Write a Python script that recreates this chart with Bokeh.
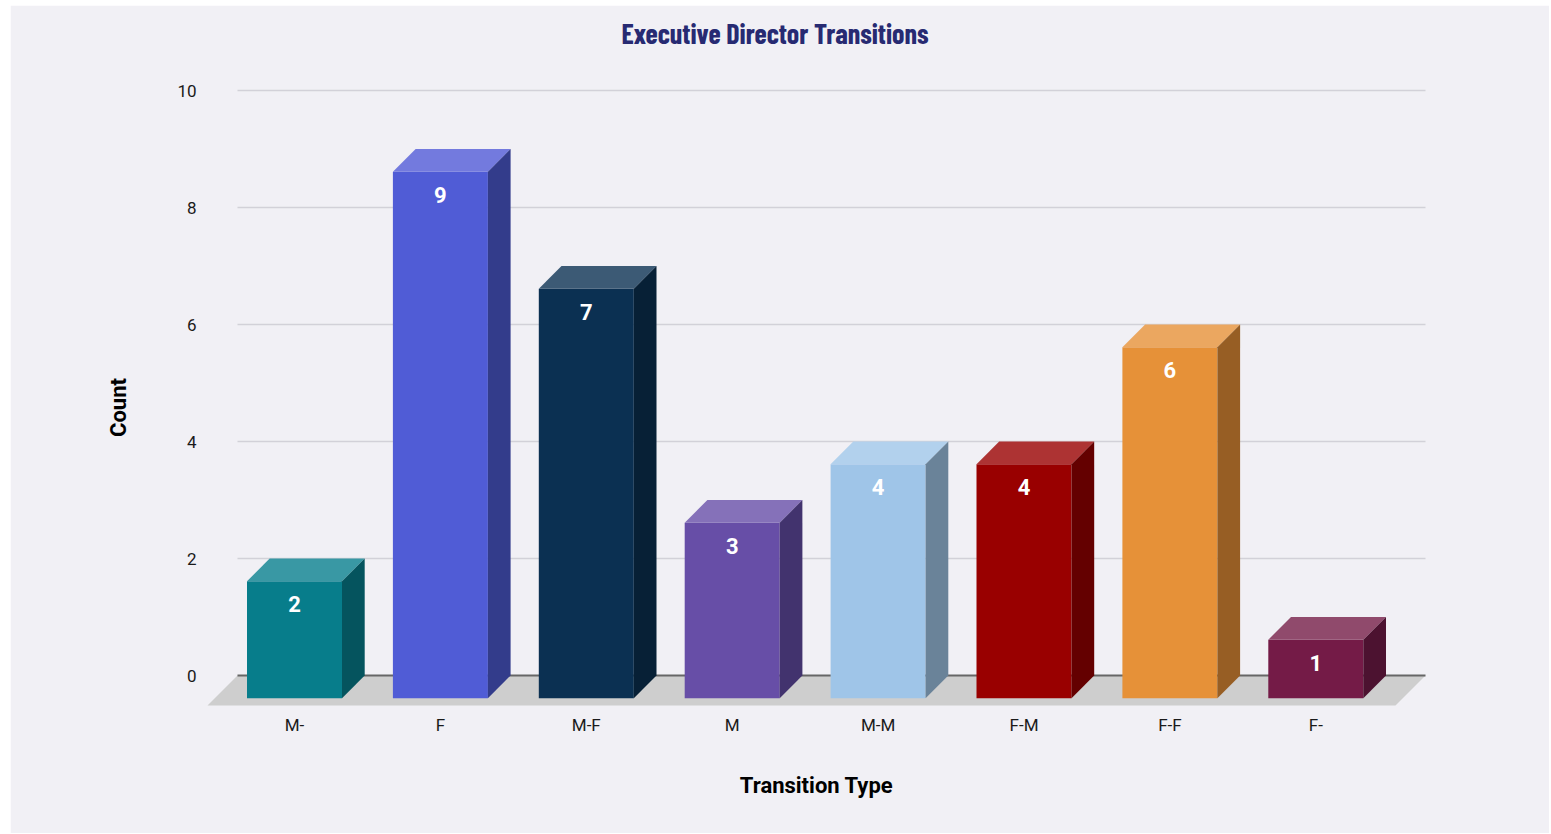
from bokeh.plotting import figure
from bokeh.models import Range1d, FixedTicker, ColumnDataSource
from bokeh.core.properties import value
from bokeh.embed import file_html
from bokeh.resources import INLINE

# ---------------- data ----------------
categories = ["M-", "F", "M-F", "M", "M-M", "F-M", "F-F", "F-"]
counts = [2, 9, 7, 3, 4, 4, 6, 1]
front_colors = ["#077d8b", "#505cd6", "#0b3052", "#674ea7", "#9fc5e8", "#990000", "#e69138", "#741b47"]
top_colors = ["#3998a4", "#737ade", "#3c5a75", "#8571b9", "#b2d1ed", "#ad3333", "#eba760", "#904a6c"]
side_colors = ["#05545e", "#333c8b", "#072036", "#42336e", "#6a8399", "#640000", "#975e24", "#4c1230"]
y_ticks = [0, 2, 4, 6, 8, 10]

# ---------------- layout constants (page pixels) ----------------
W, H = 1539, 828
PAGE_X, PAGE_Y = 10, 5
FRAME_L, FRAME_R, FRAME_T, FRAME_B = 200, 1432, 55, 759
X0 = 294.0      # page x of first category's front centre
PXX = 145.9     # px per category
Y0 = 675.0      # page y of zero
PXY = 58.5      # px per count
DEPTH = 22.7    # px of 3D depth
FLOOR_DEPTH = 30.0
GRID_L, GRID_R = 237, 1425
HALF_W = 47.5


def xd(px):
    return (px - X0) / PXX


def yd(py):
    return (Y0 - py) / PXY


dx = DEPTH / PXX
dy = DEPTH / PXY
hw = HALF_W / PXX

p = figure(width=W, height=H, output_backend="svg", toolbar_location=None, tools="",
           x_range=Range1d(xd(FRAME_L), xd(FRAME_R)),
           y_range=Range1d(yd(FRAME_B), yd(FRAME_T)),
           min_border_left=FRAME_L - PAGE_X, min_border_right=PAGE_X + W - FRAME_R,
           min_border_top=FRAME_T - PAGE_Y, min_border_bottom=H - (FRAME_B - PAGE_Y))
p.margin = (PAGE_Y, 0, 0, PAGE_X)

bg = "#f1f0f5"
p.background_fill_color = bg
p.border_fill_color = bg
p.outline_line_color = bg
p.outline_line_width = 2
p.xgrid.visible = False
p.ygrid.visible = False

# title
p.title.text = "Executive Director Transitions"
p.title.align = "left"
p.title.text_font = "Barlow Condensed, Open Sans Condensed, Roboto"
p.title.text_font_size = "28px"
p.title.text_font_style = "bold"
p.title.text_color = "#272a72"
p.title.standoff = 11
p.title.offset = 421

# floor
fd = FLOOR_DEPTH
p.patch([xd(GRID_L), xd(GRID_R), xd(GRID_R - fd), xd(GRID_L - fd)],
        [0, 0, yd(Y0 + fd), yd(Y0 + fd)],
        fill_color="#cecece", line_color=None)

# gridlines
gl = [t for t in y_ticks if t != 0]
p.segment(x0=[xd(GRID_L)] * len(gl), x1=[xd(GRID_R)] * len(gl), y0=gl, y1=gl,
          line_color="#d2d1d8", line_width=1.3)
p.segment(x0=[xd(GRID_L)], x1=[xd(GRID_R)], y0=[0], y1=[0], line_color="#666666", line_width=2)

# 3D bars
for i, v in enumerate(counts):
    fl, fr = i - hw, i + hw
    bot, top = -dy, v - dy
    p.quad(left=[fl], right=[fr], bottom=[bot], top=[top], fill_color=front_colors[i], line_color=None)
    p.patch([fl, fr, fr + dx, fl + dx], [top, top, v, v], fill_color=top_colors[i], line_color=None)
    p.patch([fr, fr + dx, fr + dx, fr], [bot, 0, v, top], fill_color=side_colors[i], line_color=None)

src = ColumnDataSource(dict(x=list(range(len(categories))), y=[c - dy for c in counts],
                            t=[str(c) for c in counts]))
p.text(x="x", y="y", text="t", source=src, text_align="center", text_baseline="middle",
       y_offset=23, text_color="white", text_font=value("Roboto"), text_font_style="bold",
       text_font_size="22px")

# axes
p.xaxis.ticker = FixedTicker(ticks=list(range(len(categories))))
p.xaxis.major_label_overrides = {i: c for i, c in enumerate(categories)}
p.xaxis.axis_line_color = None
p.xaxis.major_tick_line_color = None
p.xaxis.minor_tick_line_color = None
p.xaxis.major_label_standoff = -51
p.xaxis.major_label_text_font = "Roboto"
p.xaxis.major_label_text_font_size = "17px"
p.xaxis.major_label_text_color = "#1a1a1a"
p.xaxis.axis_label = "Transition Type"
p.xaxis.axis_label_text_font = "Roboto"
p.xaxis.axis_label_text_font_style = "bold"
p.xaxis.axis_label_text_font_size = "22px"
p.xaxis.axis_label_text_color = "#000000"
p.xaxis.axis_label_standoff = 35

p.yaxis.ticker = FixedTicker(ticks=y_ticks)
p.yaxis.axis_line_color = None
p.yaxis.major_tick_line_color = None
p.yaxis.minor_tick_line_color = None
p.yaxis.major_label_standoff = -2
p.yaxis.major_label_text_font = "Roboto"
p.yaxis.major_label_text_font_size = "17px"
p.yaxis.major_label_text_color = "#1a1a1a"
p.yaxis.axis_label = "Count"
p.yaxis.axis_label_text_font = "Roboto"
p.yaxis.axis_label_text_font_style = "bold"
p.yaxis.axis_label_text_font_size = "22px"
p.yaxis.axis_label_text_color = "#000000"
p.yaxis.axis_label_standoff = 43

open("out.html", "w").write(file_html(p, INLINE))
